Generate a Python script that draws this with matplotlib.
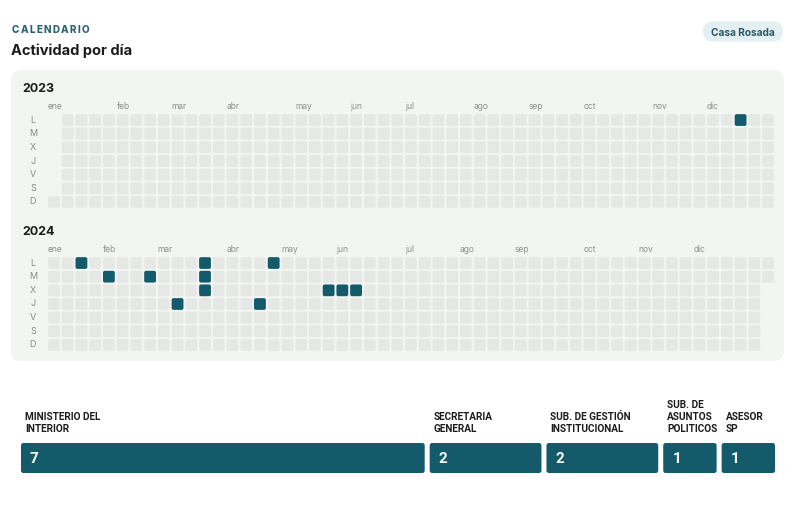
import matplotlib
matplotlib.use("Agg")
import pandas as pd
from matplotlib import pyplot as plt
from matplotlib.patches import FancyBboxPatch

# data
activity_2023 = ["2023-12-11"]
activity_2024 = ["2024-01-15", "2024-01-30", "2024-02-20", "2024-03-07",
                 "2024-03-18", "2024-03-19", "2024-03-20", "2024-04-18",
                 "2024-04-22", "2024-05-22", "2024-05-29", "2024-06-05"]
month_labels = ["ene", "feb", "mar", "abr", "may", "jun",
                "jul", "ago", "sep", "oct", "nov", "dic"]
day_labels = ["L", "M", "X", "J", "V", "S", "D"]
units = ["MINISTERIO DEL\nINTERIOR", "SECRETARIA\nGENERAL",
         "SUB. DE GESTIÓN\nINSTITUCIONAL", "SUB. DE\nASUNTOS\nPOLITICOS",
         "ASESOR\nSP"]
unit_counts = [7, 2, 2, 1, 1]

W, H = 798, 509
TEAL = "#135a6b"
PANEL = "#f3f5f3"
CELL = "#e6e8e6"
FONT = ["Inter", "DejaVu Sans"]
LABEL_FONT = ["Roboto", "DejaVu Sans"]


def px_rect(x0, y0, x1, y1):
    # pixel box (top-left origin) -> figure fraction rect
    return [x0 / W, 1 - y1 / H, (x1 - x0) / W, (y1 - y0) / H]


fig = plt.figure(figsize=(W / 100, H / 100), dpi=100)
renderer = fig.canvas.get_renderer()
bg = fig.add_axes([0, 0, 1, 1])
bg.set_xlim(0, W)
bg.set_ylim(H, 0)
bg.axis("off")


def spaced_text(x, y, s, total_width, **kw):
    # letter-spaced text, stretched to total_width pixels
    texts = [bg.text(0, y, ch, **kw) for ch in s]
    widths = [t.get_window_extent(renderer).width for t in texts]
    step = (total_width - sum(widths)) / (len(s) - 1)
    for t, w in zip(texts, widths):
        t.set_x(x)
        x += w + step


# header
spaced_text(12, 32.8, "CALENDARIO", 77, fontsize=7.1, fontweight="heavy",
            color="#2b6372", family=FONT, va="baseline")
bg.text(11, 54.5, "Actividad por día", fontsize=10.5, fontweight="bold",
        color="#1c1c1c", family=FONT, va="baseline")
bg.add_patch(FancyBboxPatch((703, 21.5), 80, 20, boxstyle="round,pad=0,rounding_size=10",
                            fc="#e3eff2", ec="none"))
bg.text(743, 35.5, "Casa Rosada", fontsize=7.3, fontweight="bold", color="#2b5866",
        family=FONT, ha="center", va="baseline")

# calendar panel
bg.add_patch(FancyBboxPatch((11, 70), 773, 291, boxstyle="round,pad=0,rounding_size=10",
                            fc=PANEL, ec="none"))


def draw_year(year, dates, top, bottom):
    ax = fig.add_axes(px_rect(47.1, top, 774.9, bottom))
    ax.set_xlim(-0.5, 52.5)
    ax.set_ylim(6.5, -0.5)
    ax.axis("off")
    days = pd.date_range("%d-01-01" % year, "%d-12-31" % year)
    offset = days[0].weekday()
    active = set(pd.to_datetime(dates))
    s = 0.86
    for d in days:
        col = (d.dayofyear - 1 + offset) // 7
        row = d.weekday()
        color = TEAL if d in active else CELL
        ax.add_patch(FancyBboxPatch((col - s / 2, row - s / 2), s, s,
                                    boxstyle="round,pad=0,rounding_size=0.14",
                                    fc=color, ec="none"))
    for m, lab in enumerate(month_labels):
        first = pd.Timestamp(year, m + 1, 1)
        col = (first.dayofyear - 1 + offset) // 7
        ax.text(col - 0.45, -0.82, lab, fontsize=6.1, color="#8e8e8e",
                family=FONT, va="baseline", clip_on=False)
    for r, lab in enumerate(day_labels):
        ax.text(-1.53, r, lab, fontsize=6.5, color="#8a8a8a", family=FONT,
                ha="center", va="center", clip_on=False)
    ax.text(-2.3, -2.05, str(year), fontsize=9, fontweight="bold", color="#1c1c1c",
            family=FONT, va="baseline", clip_on=False)


draw_year(2023, activity_2023, 113.2, 208.8)
draw_year(2024, activity_2024, 256.2, 351.8)

# units strip
bx = fig.add_axes(px_rect(21, 442.7, 780, 473.3))
total = sum(unit_counts)
bx.set_xlim(0, total)
bx.set_ylim(0, 1)
bx.axis("off")
unit_px = 759 / total
gap = 5 / unit_px
left = 0
for name, v in zip(units, unit_counts):
    bx.add_patch(FancyBboxPatch((left, 0), v - gap, 1,
                                boxstyle="round,pad=0,rounding_size=%f" % (3 / unit_px),
                                mutation_aspect=(3 / 30.6) / (3 / unit_px),
                                fc=TEAL, ec="none"))
    bx.text(left + 9 / unit_px, 0.47, str(v), fontsize=11, fontweight="bold",
            color="white", family=LABEL_FONT, va="center")
    bx.text(left + 4 / unit_px, 1.27, name, fontsize=7.2, fontweight="bold",
            color="#1c1c1c", family=LABEL_FONT, va="bottom", linespacing=1.25,
            clip_on=False)
    left += v

fig.savefig("out.png", dpi=100)
